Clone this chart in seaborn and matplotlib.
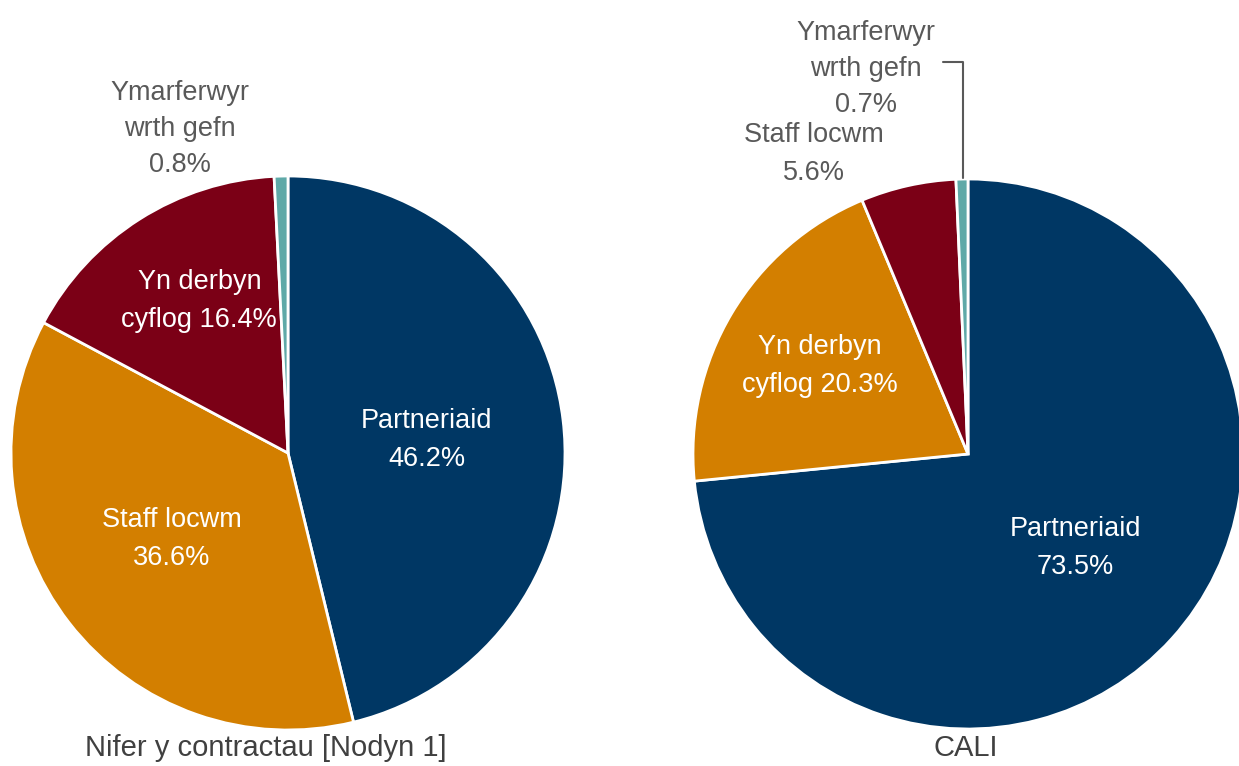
import matplotlib
matplotlib.use('Agg')
import matplotlib.pyplot as plt
import seaborn as sns

# Left pie: number of contracts
left_title = 'Nifer y contractau [Nodyn 1]'
left_labels = ['Partneriaid', 'Staff locwm', 'Yn derbyn\ncyflog', 'Ymarferwyr\nwrth gefn']
left_values = [46.2, 36.6, 16.4, 0.8]

# Right pie: CALI
right_title = 'CALI'
right_labels = ['Partneriaid', 'Yn derbyn\ncyflog', 'Staff locwm', 'Ymarferwyr\nwrth gefn']
right_values = [73.5, 20.3, 5.6, 0.7]

slice_colors = ['#003764', '#D37F00', '#7B0016', '#5FA9A8']

sns.set_theme(style='white')
plt.rcParams['font.family'] = ['Liberation Sans', 'DejaVu Sans']

W, H = 1239, 766
fig = plt.figure(figsize=(W / 100, H / 100), dpi=100)


def pie_axes(cx, cy, r):
    return fig.add_axes([(cx - r) / W, (H - cy - r) / H, 2 * r / W, 2 * r / H])


def draw_pie(ax, values):
    ax.pie(values, colors=slice_colors, startangle=90, counterclock=False,
           radius=1, wedgeprops=dict(edgecolor='white', linewidth=2))
    ax.set_xlim(-1, 1)
    ax.set_ylim(-1, 1)
    ax.set_aspect('equal')
    ax.axis('off')


def label(ax, text, value, x, y, color, sep=' ', ls=1.6):
    ax.text(x, y, f'{text}{sep}{value}%', ha='center', va='center',
            color=color, fontsize=19.5, linespacing=ls, clip_on=False)


grey = '#595959'

ax1 = pie_axes(288, 453, 277)
draw_pie(ax1, left_values)
label(ax1, left_labels[0], left_values[0], 0.50, 0.047, 'white', '\n')
label(ax1, left_labels[1], left_values[1], -0.42, -0.31, 'white', '\n')
label(ax1, left_labels[2], left_values[2], -0.32, 0.55, 'white')
label(ax1, left_labels[3], left_values[3], -0.39, 1.17, grey, '\n', 1.5)

ax2 = pie_axes(968, 454, 275)
draw_pie(ax2, right_values)
label(ax2, right_labels[0], right_values[0], 0.39, -0.34, 'white', '\n')
label(ax2, right_labels[1], right_values[1], -0.54, 0.32, 'white')
label(ax2, right_labels[2], right_values[2], -0.56, 1.09, grey, '\n')
label(ax2, right_labels[3], right_values[3], -0.37, 1.40, grey, '\n', 1.5)
ax2.plot([-0.09, -0.017, -0.017], [1.425, 1.425, 1.005], color=grey,
         linewidth=1.5, clip_on=False)

fig.text(266 / W, 1 - 748 / H, left_title, ha='center', va='center',
         fontsize=21, color='#404040')
fig.text(966 / W, 1 - 748 / H, right_title, ha='center', va='center',
         fontsize=21, color='#404040')

fig.savefig('out.png', dpi=100)
